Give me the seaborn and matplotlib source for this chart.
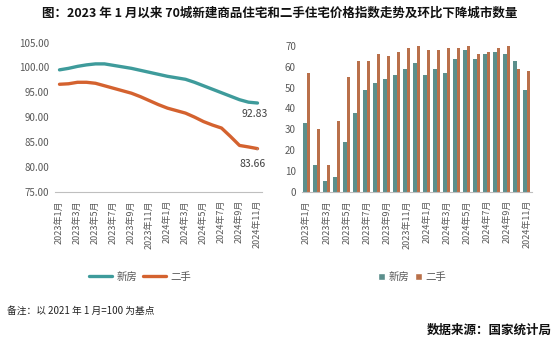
import numpy as np
import pandas as pd
import matplotlib
matplotlib.use("Agg")
import matplotlib.pyplot as plt
from matplotlib.lines import Line2D
from matplotlib.patches import Patch
import seaborn as sns

sns.set_style("white")
plt.rcParams['font.family'] = ['Noto Sans CJK SC', 'DejaVu Sans']

# ---------------- data ----------------
months = ["2023年1月", "2023年2月", "2023年3月", "2023年4月", "2023年5月", "2023年6月",
          "2023年7月", "2023年8月", "2023年9月", "2023年10月", "2023年11月", "2023年12月",
          "2024年1月", "2024年2月", "2024年3月", "2024年4月", "2024年5月", "2024年6月",
          "2024年7月", "2024年8月", "2024年9月", "2024年10月", "2024年11月"]

new_index = [99.5, 99.8, 100.2, 100.5, 100.7, 100.7, 100.4, 100.1, 99.8, 99.4, 99.0, 98.6,
             98.2, 97.9, 97.6, 97.0, 96.3, 95.6, 94.9, 94.2, 93.5, 93.0, 92.83]
used_index = [96.6, 96.7, 97.0, 97.0, 96.8, 96.3, 95.8, 95.3, 94.8, 94.1, 93.3, 92.5,
              91.8, 91.3, 90.8, 90.0, 89.1, 88.4, 87.8, 86.1, 84.3, 84.0, 83.66]

new_down = [33, 13, 5, 7, 24, 38, 49, 52, 54, 56, 59, 62,
            56, 59, 57, 64, 68, 64, 66, 67, 66, 63, 49]
used_down = [57, 30, 13, 34, 55, 63, 63, 66, 65, 67, 69, 70,
             68, 68, 69, 69, 70, 66, 67, 69, 70, 59, 58]

series_names = ["新房", "二手"]

title = "图：2023 年 1 月以来 70城新建商品住宅和二手住宅价格指数走势及环比下降城市数量"
note = "备注：以 2021 年 1 月=100 为基点"
source = "数据来源：国家统计局"

line_colors = ["#3E9B9B", "#D4622F"]
bar_colors = ["#5B8F8C", "#B9704A"]
grey = "#595959"

W, H = 559, 342
fig = plt.figure(figsize=(W / 100, H / 100), dpi=100)

def ax_rect(x0, x1, ytop, ybot):
    return [x0 / W, 1 - ybot / H, (x1 - x0) / W, (ybot - ytop) / H]

n = len(months)
idx = np.arange(n)

# ---------------- left: line chart ----------------
ax1 = fig.add_axes(ax_rect(55, 262, 42.5, 191.7))
df_line = pd.DataFrame({
    "i": np.concatenate([idx, idx]),
    "value": new_index + used_index,
    "series": [series_names[0]] * n + [series_names[1]] * n,
})
sns.lineplot(data=df_line, x="i", y="value", hue="series", palette=line_colors,
             linewidth=2.4, ax=ax1, legend=False)
ax1.set_xlim(-0.5, n - 0.5)
ax1.set_ylim(75, 105)
ax1.set_yticks(np.arange(75, 106, 5))
ax1.set_yticklabels([f"{v:.2f}" for v in np.arange(75, 106, 5)], color=grey, fontsize=7)

# annotations
ax1.annotate(f"{new_index[-1]:.2f}", xy=(n - 1, new_index[-1]), xytext=(-3, -11),
             textcoords="offset pixels", ha="center", va="center", fontsize=7.5, color="#404040")
ax1.annotate(f"{used_index[-1]:.2f}", xy=(n - 1, used_index[-1]), xytext=(-5, -15),
             textcoords="offset pixels", ha="center", va="center", fontsize=7.5, color="#404040",
             arrowprops=dict(arrowstyle="-", color="#A0A0A0", lw=0.6, shrinkA=4, shrinkB=0))

# ---------------- right: bar chart ----------------
ax2 = fig.add_axes(ax_rect(301.5, 532, 45, 191.7))
df_bar = pd.DataFrame({
    "i": np.concatenate([idx, idx]),
    "count": new_down + used_down,
    "series": [series_names[0]] * n + [series_names[1]] * n,
})
sns.barplot(data=df_bar, x="i", y="count", hue="series", palette=bar_colors,
            width=0.7, gap=0, saturation=1, linewidth=0, ax=ax2, legend=False)
ax2.set_xlim(-0.5, n - 0.5)
ax2.set_ylim(0, 70.5)
ax2.set_yticks(np.arange(0, 71, 10))
ax2.set_yticklabels([str(v) for v in range(0, 71, 10)], color=grey, fontsize=7)

for ax in (ax1, ax2):
    ax.set_xlabel("")
    ax.set_ylabel("")
    for s in ("top", "right", "left"):
        ax.spines[s].set_visible(False)
    ax.spines["bottom"].set_color("#BFBFBF")
    ax.spines["bottom"].set_linewidth(0.8)
    ax.grid(False)
    ax.set_xticks(idx[::2])
    ax.set_xticklabels(months[::2], rotation=90, fontsize=6.5, color=grey)
    ax.set_xticks(np.arange(-0.5, n - 0.5, 2), minor=True)
    ax.tick_params(axis="x", which="major", length=0, pad=6)
    ax.tick_params(axis="x", which="minor", length=4, width=0.8, color="#BFBFBF", direction="out")
    ax.tick_params(axis="y", length=0, pad=4)

# ---------------- legends ----------------
lh = [Line2D([0], [0], color=c, lw=2.4) for c in line_colors]
fig.legend(lh, series_names, loc="center", bbox_to_anchor=(140 / W, 1 - 277 / H),
           ncol=2, frameon=False, fontsize=7.5, handlelength=2.2, columnspacing=0.6,
           handletextpad=0.4, labelcolor=grey)
bh = [Patch(facecolor=c) for c in bar_colors]
fig.legend(bh, series_names, loc="center", bbox_to_anchor=(412 / W, 1 - 277 / H),
           ncol=2, frameon=False, fontsize=7.5, handlelength=0.7, handleheight=0.7,
           columnspacing=0.6, handletextpad=0.3, labelcolor=grey)

# ---------------- texts ----------------
fig.text(0.5, 1 - 13 / H, title, ha="center", va="center", fontsize=9,
         fontweight="bold", color="#111111")
fig.text(7 / W, 1 - 311 / H, note, ha="left", va="center", fontsize=7, color="#222222")
fig.text(552 / W, 1 - 330 / H, source, ha="right", va="center", fontsize=9,
         fontweight="bold", color="#111111")

fig.savefig("out.png", dpi=100, facecolor="white")
